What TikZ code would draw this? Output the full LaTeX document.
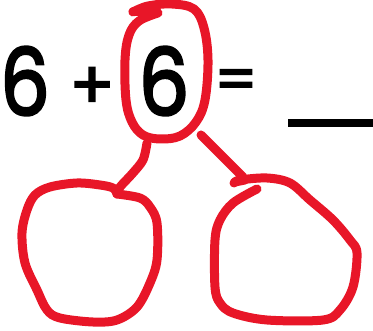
\documentclass[tikz,border=0pt]{standalone}
\usepackage{fontspec}
\setmainfont{Poppins}
\newfontfamily\glyphfont[FakeBold=2.8]{Poppins}
\definecolor{penred}{RGB}{232,22,40}
\tikzset{
  pen/.style={draw=penred, line width=9pt, line cap=round, line join=round},
  glyph/.style={inner sep=0pt, font=\glyphfont\fontsize{93}{93}\selectfont},
}
\begin{document}
\begin{tikzpicture}[x=1pt,y=-1pt]
\useasboundingbox (0,0) rectangle (373,331);
% equation
\node[glyph] (six1) at (25,81) {\scalebox{0.84}[1]{6}};
\node[glyph, font=\glyphfont\fontsize{66}{66}\selectfont] (plus) at (92,88) {+};
\node[glyph, font=\glyphfont\fontsize{60}{60}\selectfont] (eq) at (236,85) {=};
\node[glyph] (six2) at (164,81) {\scalebox{0.86}[1]{6}};
\coordinate (blankL) at (288,123);
\coordinate (blankR) at (373,123);
\draw[line width=8pt] (blankL) -- (blankR);
% circle around second 6
\draw[pen] plot[smooth, tension=0.6] coordinates {(133,12) (148,6) (172,4) (194,9) (204,28) (208,60) (205,100) (196,122) (180,136) (160,139) (143,135) (132,122) (126,100) (125,60) (129,35) (139,21) (158,13)};
\draw[pen] (133,12) -- (157,12);
% connectors
\coordinate (topL) at (147,143);
\coordinate (topR) at (201,135);
\coordinate (leftTop) at (117,194);
\coordinate (rightTop) at (257,189);
\draw[pen] plot[smooth, tension=0.5] coordinates {(topL) (143,160) (132,174) (120,187) (leftTop)};
\draw[pen] plot[smooth, tension=0.5] coordinates {(topR) (214,148) (243,177)};
\draw[pen] (235,182) -- (245,180);
% left part circle
\draw[pen] plot[smooth, tension=0.55] coordinates {(leftTop) (140,198) (150,207) (157,223) (157,260) (150,283) (137,307) (117,320) (93,322) (60,318) (47,310) (37,290) (25,263) (22,233) (27,210) (35,195) (50,187) (77,183) (100,185) (113,188) (leftTop)};
% right part circle
\draw[pen] plot[smooth, tension=0.55] coordinates {(rightTop) (233,203) (220,220) (215,240) (215,287) (220,303) (233,313) (267,320) (323,320) (340,310) (353,287) (357,253) (350,240) (333,220) (310,200) (290,183) (267,178) (240,180) (234,183)};
\end{tikzpicture}
\end{document}
